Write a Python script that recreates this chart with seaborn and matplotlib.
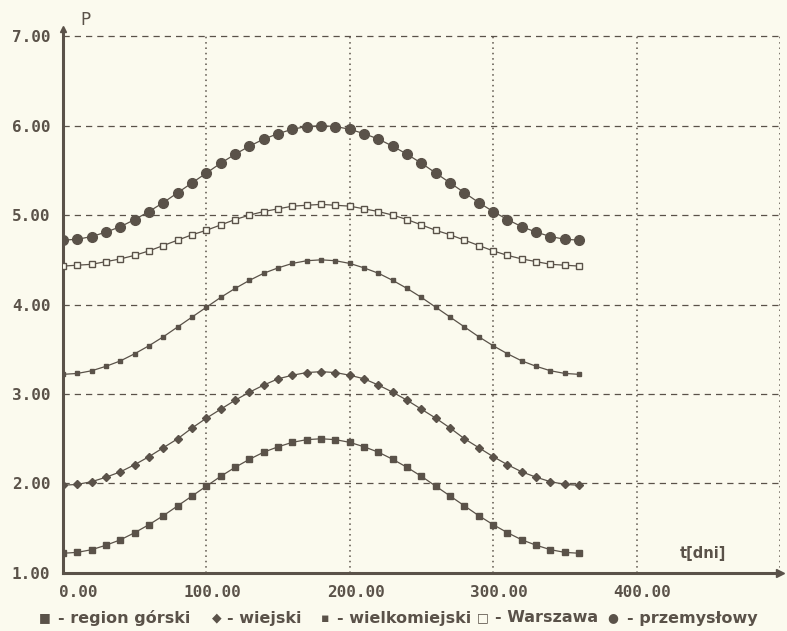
import matplotlib
matplotlib.use('Agg')
import matplotlib.pyplot as plt
import matplotlib.transforms as mtransforms
import pandas as pd
import seaborn as sns

# days (every 10 days over a year)
t = list(range(0, 361, 10))

# values (rising half 0..180, falling half mirrors it)
gorski_up = [1.22, 1.23, 1.26, 1.31, 1.37, 1.45, 1.54, 1.64, 1.75, 1.86,
             1.97, 2.08, 2.18, 2.27, 2.35, 2.41, 2.46, 2.49, 2.50]
wiejski_up = [1.98, 1.99, 2.02, 2.07, 2.13, 2.21, 2.30, 2.40, 2.50, 2.62,
              2.73, 2.83, 2.93, 3.02, 3.10, 3.17, 3.21, 3.24, 3.25]
wielko_up = [3.22, 3.23, 3.26, 3.31, 3.37, 3.45, 3.54, 3.64, 3.75, 3.86,
             3.97, 4.08, 4.18, 4.27, 4.35, 4.41, 4.46, 4.49, 4.50]
warszawa_up = [4.43, 4.44, 4.45, 4.48, 4.51, 4.55, 4.60, 4.66, 4.72, 4.78,
               4.83, 4.89, 4.95, 5.00, 5.04, 5.07, 5.10, 5.11, 5.12]
przem_up = [4.72, 4.73, 4.76, 4.81, 4.87, 4.95, 5.04, 5.14, 5.25, 5.36,
            5.47, 5.58, 5.68, 5.77, 5.85, 5.91, 5.96, 5.99, 6.00]

region_gorski = gorski_up + gorski_up[-2::-1]
wiejski = wiejski_up + wiejski_up[-2::-1]
wielkomiejski = wielko_up + wielko_up[-2::-1]
warszawa = warszawa_up + warszawa_up[-2::-1]
przemyslowy = przem_up + przem_up[-2::-1]

y_ticks = [1, 2, 3, 4, 5, 6, 7]
x_ticks = [0, 100, 200, 300, 400]

ink = '#5a5249'
bg = '#fbfaee'

sns.set_style('white')
plt.rcParams['font.family'] = ['DejaVu Sans']

fig = plt.figure(figsize=(7.87, 6.31), dpi=100)
fig.patch.set_facecolor(bg)
ax = fig.add_axes([0.080, 0.092, 0.911, 0.862])
ax.set_facecolor(bg)

# grid
ax.hlines([2, 3, 4, 5, 6, 7], 0, 500, colors=ink, linestyles=(0, (5, 4)), lw=0.9, zorder=1)
ax.vlines([100, 200, 300, 400, 500], 1, 7, colors=ink, linestyles=(0, (1, 2.5)), lw=1.1, zorder=1)

series = [
    (region_gorski, 's', 4, ink),
    (wiejski, 'D', 4, ink),
    (wielkomiejski, 's', 3, ink),
    (warszawa, 's', 5, bg),
    (przemyslowy, 'o', 7, ink),
]
for vals, m, ms, fc in series:
    df = pd.DataFrame({'t': t, 'p': vals})
    sns.lineplot(data=df, x='t', y='p', ax=ax, color=ink, lw=0.9,
                 marker=m, markersize=ms, markerfacecolor=fc,
                 markeredgecolor=ink, markeredgewidth=1, zorder=3)

ax.set_xlim(0, 500)
ax.set_ylim(1, 7.08)
ax.set_xticks(x_ticks)
ax.set_xticklabels(['%.2f' % v for v in x_ticks])
ax.set_yticks(y_ticks)
ax.set_yticklabels(['%.2f' % v for v in y_ticks])
ax.tick_params(axis='both', colors=ink, length=0, labelsize=11.5)
for lab in ax.get_xticklabels() + ax.get_yticklabels():
    lab.set_family('DejaVu Sans Mono')
    lab.set_fontweight('bold')
ax.tick_params(axis='x', pad=9)
ax.tick_params(axis='y', pad=9)
# x labels sit a little to the right of their ticks
for i, lab in enumerate(ax.get_xticklabels()):
    dx = 15 if i == 0 else 6
    shift = mtransforms.ScaledTranslation(dx / 100, 0, fig.dpi_scale_trans)
    lab.set_transform(lab.get_transform() + shift)
ax.set_xlabel('')
ax.set_ylabel('')

for s in ['top', 'right']:
    ax.spines[s].set_visible(False)
for s in ['left', 'bottom']:
    ax.spines[s].set_color(ink)
    ax.spines[s].set_linewidth(2.2)

# axis arrows
ax.plot(1.0, 0, '>', color=ink, ms=6, transform=ax.transAxes, clip_on=False)
ax.plot(0, 1.0, '^', color=ink, ms=5, transform=ax.transAxes, clip_on=False)

fig.text(0.102, 0.968, 'P', color=ink, fontsize=12, ha='left', va='center')
ax.text(430, 1.13, 't[dni]', color=ink, fontsize=10.5, fontweight='bold', ha='left', va='bottom')

# legend as a text row
legend_items = [
    (45, '■', 58, '- region górski'),
    (217, '◆', 227, '- wiejski'),
    (325, '▪', 337, '- wielkomiejski'),
    (483, '□', 495, '- Warszawa'),
    (613, '●', 627, '- przemysłowy'),
]
for mx, sym, tx, label in legend_items:
    fig.text(mx / 787, 1 - 618 / 631, sym, color=ink, fontsize=9, ha='center', va='center')
    fig.text(tx / 787, 1 - 618 / 631, label, color=ink, fontsize=11.5, fontweight='bold',
             ha='left', va='center')

fig.savefig('out.png', dpi=100, facecolor=bg)
